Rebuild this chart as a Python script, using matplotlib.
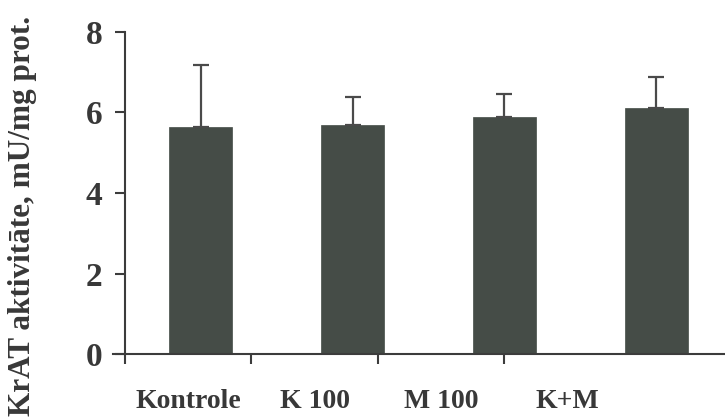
import matplotlib
matplotlib.use("Agg")
import matplotlib.pyplot as plt
import numpy as np

# KrAT activity per group (mean and upper SD)
groups = ["Kontrole", "K 100", "M 100", "K+M"]
activity = [5.65, 5.70, 5.88, 6.11]
sd_upper = [1.54, 0.69, 0.58, 0.76]
y_ticks = [0, 2, 4, 6, 8]
y_label = "KrAT aktivitāte, mU/mg prot."

plt.rcParams["font.family"] = ["Liberation Serif", "DejaVu Serif"]
plt.rcParams["font.weight"] = "bold"

axis_col = "#3c3c3c"
bar_col = "#454c47"
text_col = "#383838"

fig = plt.figure(figsize=(7.25, 4.19), dpi=100)
ax = fig.add_axes([113 / 725, 65 / 419, 612 / 725, 322 / 419])

n = len(groups)
bar_x = 0.6 + 1.2 * np.arange(n)
ax.bar(bar_x, activity, width=0.5, color=bar_col, edgecolor=bar_col,
       linewidth=0.5, zorder=2)
ax.errorbar(bar_x, activity, yerr=[np.zeros(n), sd_upper], fmt="none",
            ecolor="#4a4a4a", elinewidth=1.6, capsize=5.8, capthick=1.6,
            zorder=3)

ax.set_xlim(-12 / 129, 612 / 129)
ax.set_ylim(0, 8)

for s in ["top", "right"]:
    ax.spines[s].set_visible(False)
ax.spines["left"].set_position(("data", 0))
for s in ["left", "bottom"]:
    ax.spines[s].set_color(axis_col)
    ax.spines[s].set_linewidth(1.5)

ax.set_yticks(y_ticks)
ax.set_yticklabels([str(v) for v in y_ticks], fontsize=24, fontweight="bold",
                   color=text_col)
ax.tick_params(axis="y", direction="out", length=7.2, width=1.5,
               color=axis_col, pad=9)

ax.set_xticks(np.arange(n))
ax.set_xticklabels([])
ax.tick_params(axis="x", which="major", direction="out", length=7.2,
               width=1.5, color=axis_col)
ax.set_xticks(np.arange(n) + 0.5, minor=True)
ax.set_xticklabels(groups, minor=True, fontsize=20, fontweight="bold",
                   color=text_col)
ax.tick_params(axis="x", which="minor", length=0, pad=25)

fig.text(23 / 725, 3 / 419, y_label, rotation=90, ha="center", va="bottom",
         fontsize=22.5, fontweight="bold", color=text_col)

fig.savefig("out.png", dpi=100)
